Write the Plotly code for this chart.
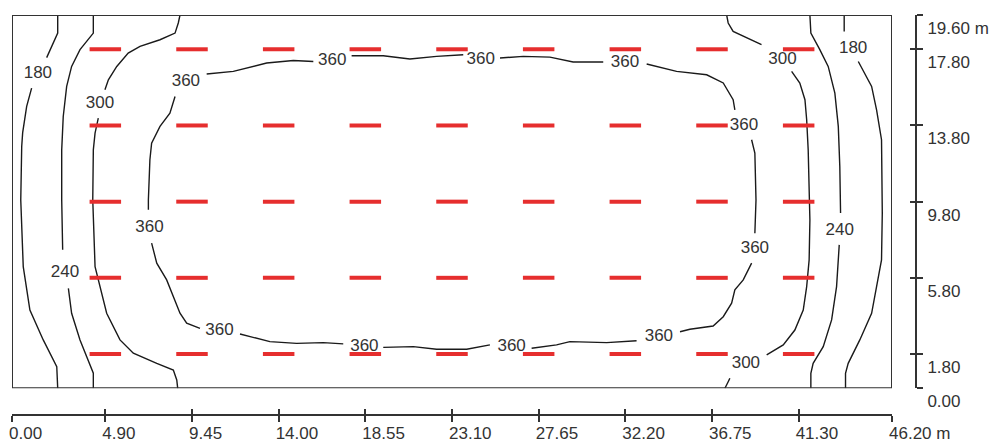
import plotly.graph_objects as go

# ---- axis ticks ----
X_TICKS = [0.00, 4.90, 9.45, 14.00, 18.55, 23.10, 27.65, 32.20, 36.75, 41.30, 46.20]
X_TICK_TEXT = ["0.00", "4.90", "9.45", "14.00", "18.55", "23.10", "27.65", "32.20", "36.75", "41.30", "46.20 m"]
Y_TICKS = [0.00, 1.80, 5.80, 9.80, 13.80, 17.80, 19.60]
Y_TICK_TEXT = ["0.00", "1.80", "5.80", "9.80", "13.80", "17.80", "19.60 m"]

# ---- luminaire positions ----
LUM_X = [4.90, 9.45, 14.00, 18.55, 23.10, 27.65, 32.20, 36.75, 41.30]
LUM_Y = [1.80, 5.80, 9.80, 13.80, 17.80]

# ---- isolines (None = gap where the label sits) ----
LEFT_180_X = [2.40, 2.40, 1.82, None, 1.03, 0.77, 0.56, 0.51, 0.46, 0.59, 0.94, 1.64, 2.35, 2.40]
LEFT_180_Y = [19.6, 18.65, 17.36, None, 15.76, 14.80, 13.42, 12.70, 9.89, 6.39, 4.11, 2.54, 1.14, 0.0]

LEFT_240_X = [4.27, 4.27, 3.57, 3.13, 2.87, 2.69, 2.61, 2.61, 2.66, None, 2.96, 3.13, 3.57, 4.09, 4.27, 4.27]
LEFT_240_Y = [19.6, 18.65, 17.78, 16.90, 15.85, 14.27, 12.52, 9.89, 7.27, None, 5.25, 3.94, 2.54, 1.31, 0.79, 0.0]

LEFT_300_X = [8.82, 8.73, 8.56, 7.77, 6.72, 6.10, 5.50, 5.06, 4.88, None, 4.53, 4.36, 4.27, 4.24, 4.36,
              4.62, 4.97, 5.67, 6.37, 7.60, 8.47, 8.65, 8.70]
LEFT_300_Y = [19.6, 19.18, 18.65, 18.30, 17.95, 17.60, 16.90, 16.20, 15.68, None, 14.19, 13.40, 12.52, 9.89, 6.39,
              5.34, 3.94, 2.54, 1.84, 1.31, 0.96, 0.44, 0.0]

LOOP_360_X = [10.22, 11.62, 13.37, 14.77, 15.82, None, 17.83, 19.49, 20.89, 22.29, 23.69, None,
              25.62, 26.84, 28.24, 29.46, 31.04, None, 33.32, 34.89, 36.47, 37.34, 37.86, 37.95, None,
              38.83, 39.00, 39.06, 39.00, None, 38.83, 38.39, 37.95, 37.78, 37.34, 36.81, 35.59, 35.07, None,
              32.79, 31.22, 29.29, 28.59, 27.28, None, 25.09, 23.87, 22.29, 21.07, 19.49, None,
              17.39, 16.34, 14.94, 13.54, 11.97, None, 9.87, 9.17, 8.82, 8.47, 8.12, 7.60, 7.33, None,
              7.16, 7.16, 7.24, 7.33, 7.77, 8.29, 8.56]
LOOP_360_Y = [16.50, 16.64, 17.08, 17.21, 17.16, None, 17.46, 17.46, 17.29, 17.43, 17.51, None,
              17.34, 17.43, 17.39, 17.13, 17.13, None, 17.03, 16.64, 16.46, 16.03, 15.15, 14.62, None,
              13.05, 12.35, 9.89, 8.14, None, 6.57, 5.69, 5.17, 4.47, 3.76, 3.27, 3.10, 2.97, None,
              2.50, 2.40, 2.45, 2.28, 2.10, None, 2.28, 2.05, 2.05, 2.19, 2.15, None,
              2.33, 2.40, 2.36, 2.45, 2.85, None, 3.15, 3.42, 3.94, 4.80, 5.69, 6.57, 7.62, None,
              9.37, 9.89, 12.00, 12.87, 13.75, 14.45, 15.32]

RIGHT_300_X = [37.52, 37.60, 37.86, 38.57, 39.35, None, 40.93, 41.36, 41.63, 41.72, 41.80, 41.85, 41.89,
               41.85, 41.72, 41.54, 41.10, 40.49, 39.62, None, 37.69, 37.43]
RIGHT_300_Y = [19.6, 19.18, 18.74, 18.39, 18.04, None, 16.64, 16.03, 15.15, 14.10, 12.52, 9.89, 8.84,
               6.74, 5.34, 4.11, 3.06, 2.28, 1.75, None, 0.53, 0.0]

RIGHT_240_X = [41.89, 41.94, 42.41, 42.85, 43.20, 43.38, 43.46, 43.50, None, 43.43, 43.29, 43.03, 42.59,
               42.06, 41.94, 41.94]
RIGHT_240_Y = [19.6, 18.65, 17.78, 16.90, 15.50, 13.75, 11.64, 9.20, None, 7.53, 5.34, 3.59, 2.19,
               1.31, 0.79, 0.0]

RIGHT_180_X = [43.69, 43.69, None, 44.43, 45.13, 45.39, 45.65, 45.69, 45.65, 45.39, 45.13, 44.51, 43.90, 43.76, 43.76]
RIGHT_180_Y = [19.6, 18.74, None, 17.16, 15.85, 14.62, 13.05, 9.20, 6.74, 5.34, 3.94, 2.54, 1.31, 0.79, 0.0]

# ---- isoline labels ----
LABEL_TEXT = ["180", "240", "300", "360", "360", "360", "360", "360", "360",
              "300", "180", "360", "360", "240", "300", "360", "360", "360"]
LABEL_X = [1.36, 2.78, 4.62, 9.13, 7.22, 10.89, 16.81, 24.61, 32.18,
           40.45, 44.16, 38.43, 39.00, 43.46, 38.53, 33.96, 26.23, 18.50]
LABEL_Y = [16.52, 6.08, 14.94, 16.10, 8.45, 3.01, 17.19, 17.25, 17.11,
           17.25, 17.82, 13.78, 7.32, 8.27, 1.28, 2.71, 2.18, 2.17]

FONT = "Liberation Sans, Arial, sans-serif"
LINE_COL = "#1a1a1a"
AXIS_COL = "#333333"

fig = go.Figure()

for xs, ys in [(LEFT_180_X, LEFT_180_Y), (LEFT_240_X, LEFT_240_Y), (LEFT_300_X, LEFT_300_Y),
               (LOOP_360_X, LOOP_360_Y), (RIGHT_300_X, RIGHT_300_Y), (RIGHT_240_X, RIGHT_240_Y),
               (RIGHT_180_X, RIGHT_180_Y)]:
    fig.add_trace(go.Scatter(x=xs, y=ys, mode="lines", line=dict(color=LINE_COL, width=1.4),
                             hoverinfo="skip", showlegend=False, cliponaxis=False))

fig.add_trace(go.Scatter(x=LABEL_X, y=LABEL_Y, mode="text", text=LABEL_TEXT,
                         textposition="middle center",
                         textfont=dict(family=FONT, size=17, color="#333333"),
                         hoverinfo="skip", showlegend=False, cliponaxis=False))

lx = [x for y in LUM_Y for x in LUM_X]
ly = [y for y in LUM_Y for x in LUM_X]
fig.add_trace(go.Scatter(x=lx, y=ly, mode="markers",
                         marker=dict(symbol="line-ew", size=22.5,
                                     line=dict(color="#e62e2e", width=4)),
                         hoverinfo="skip", showlegend=False, cliponaxis=False))

# empty trace so the overlay axes exist
fig.add_trace(go.Scatter(x=[], y=[], xaxis="x2", yaxis="y2", showlegend=False))

fig.add_shape(type="rect", xref="x", yref="y",
              x0=X_TICKS[0], x1=X_TICKS[-1], y0=Y_TICKS[0], y1=Y_TICKS[-1],
              line=dict(color=AXIS_COL, width=2), layer="above")

W, H = 1003, 443
L, R, T, B = 12, 87, 15, 28
plot_w = W - L - R
plot_h = H - T - B
x_dom = [0, 880 / plot_w]
y_dom = [(415 - 388.3) / plot_h, 1]

tickfont = dict(family=FONT, size=17, color="#333333")
common_x = dict(range=[X_TICKS[0], X_TICKS[-1]], domain=x_dom, anchor="free", position=0,
                tickvals=X_TICKS, showgrid=False, zeroline=False, ticklen=6, tickwidth=2,
                tickcolor=AXIS_COL, fixedrange=True, automargin=False)
common_y = dict(range=[Y_TICKS[0], Y_TICKS[-1]], domain=y_dom, anchor="free", position=1, side="right",
                tickvals=Y_TICKS, showgrid=False, zeroline=False, ticklen=6, tickwidth=2,
                tickcolor=AXIS_COL, fixedrange=True, automargin=False)

fig.update_layout(
    width=W, height=H,
    margin=dict(l=L, r=R, t=T, b=B, pad=0, autoexpand=False),
    paper_bgcolor="white", plot_bgcolor="white",
    xaxis=dict(**common_x, ticks="outside", showline=True, linecolor=AXIS_COL, linewidth=2,
               ticktext=X_TICK_TEXT, ticklabelposition="outside right", tickfont=tickfont,
               ticklabelshift=-5, ticklabelstandoff=3),
    xaxis2=dict(**common_x, overlaying="x", ticks="inside", showline=False, showticklabels=False),
    yaxis=dict(**common_y, ticks="outside", showline=True, linecolor=AXIS_COL, linewidth=2,
               ticktext=Y_TICK_TEXT, ticklabelposition="outside bottom", tickfont=tickfont,
               ticklabelstandoff=7),
    yaxis2=dict(**common_y, overlaying="y", ticks="inside", showline=False, showticklabels=False),
)

fig.write_html("out.html")
